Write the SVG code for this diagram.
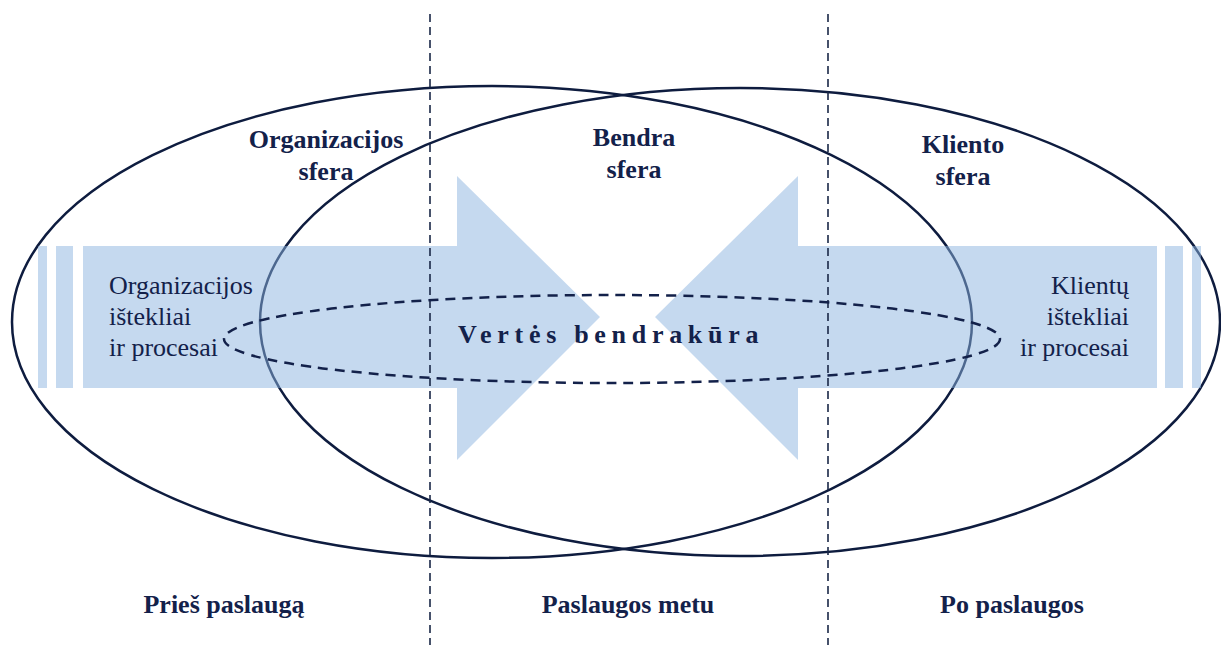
<svg xmlns="http://www.w3.org/2000/svg" width="1221" height="645" viewBox="0 0 1221 645">
<style>
.sphere{fill:none;stroke:#0e1c3f;stroke-width:2.5}
.band{fill:#8bb3df;opacity:0.5}
.vline{stroke:#1a2747;stroke-width:1.6;stroke-dasharray:8 5}
.t{font-size:26px;fill:#13214a}
.b{font-weight:bold;text-anchor:middle}
</style>
<rect width="1221" height="645" fill="#ffffff"/>
<g id="spheres">
<ellipse id="org-sphere" class="sphere" cx="492" cy="322" rx="480" ry="236"/>
<ellipse id="client-sphere" class="sphere" cx="740" cy="322" rx="480" ry="234"/>
</g>
<g id="org-arrow">
<rect class="band" x="38" y="246" width="9" height="142"/>
<rect class="band" x="56" y="246" width="17" height="142"/>
<polygon class="band" points="83,246 457,246 457,176 600,317 457,460 457,388 83,388"/>
</g>
<g id="client-arrow">
<rect class="band" x="1192" y="246" width="9" height="142"/>
<rect class="band" x="1165" y="246" width="18" height="142"/>
<polygon class="band" points="1157,246 798,246 798,176 655,317 798,460 798,388 1157,388"/>
</g>
<g id="connectors">
<line class="vline" x1="430" y1="14" x2="430" y2="645"/>
<line class="vline" x1="828" y1="14" x2="828" y2="645"/>
</g>
<g id="cocreation" font-family="'Liberation Serif','Times New Roman','DejaVu Serif',serif">
<ellipse cx="612" cy="339" rx="388" ry="44" fill="none" stroke="#13214a" stroke-width="2.5" stroke-dasharray="10 7"/>
<text class="t" x="458" y="343" font-weight="bold" letter-spacing="5.7" font-size="24">Vertės bendrakūra</text>
</g>
<g id="labels" font-family="'Liberation Serif','Times New Roman','DejaVu Serif',serif">
<text class="t b" x="326" y="148">Organizacijos</text>
<text class="t b" x="326" y="180">sfera</text>
<text class="t b" x="634" y="146">Bendra</text>
<text class="t b" x="634" y="178">sfera</text>
<text class="t b" x="963" y="153">Kliento</text>
<text class="t b" x="963" y="185">sfera</text>
<text class="t" x="109" y="294">Organizacijos</text>
<text class="t" x="109" y="325">ištekliai</text>
<text class="t" x="109" y="356">ir procesai</text>
<text class="t" x="1129" y="294" text-anchor="end">Klientų</text>
<text class="t" x="1129" y="325" text-anchor="end">ištekliai</text>
<text class="t" x="1129" y="356" text-anchor="end">ir procesai</text>
<text class="t b" x="224" y="613">Prieš paslaugą</text>
<text class="t b" x="628" y="613">Paslaugos metu</text>
<text class="t b" x="1012" y="613">Po paslaugos</text>
</g>
</svg>
